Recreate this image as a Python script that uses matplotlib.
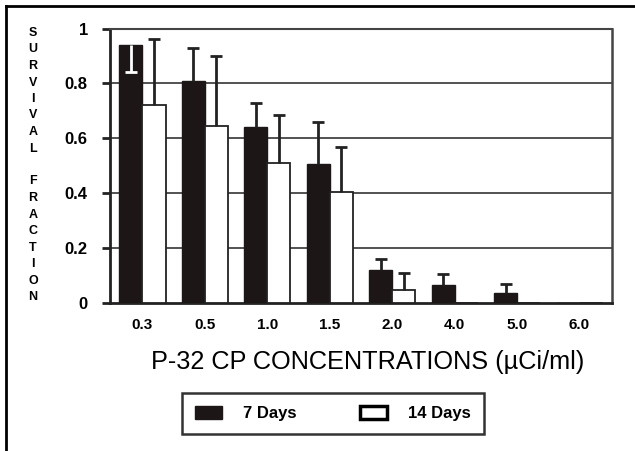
import numpy as np
import matplotlib
matplotlib.use("Agg")
import matplotlib.pyplot as plt
from matplotlib.patches import Patch
from matplotlib.lines import Line2D

plt.rcParams['font.family'] = ['Liberation Sans', 'DejaVu Sans']

# valores
concentraciones = ['0.3', '0.5', '1.0', '1.5', '2.0', '4.0', '5.0', '6.0']
dias7 = [0.94, 0.81, 0.64, 0.505, 0.12, 0.065, 0.035, 0.0]
dias7_err = [0.10, 0.12, 0.09, 0.155, 0.04, 0.04, 0.035, 0.0]
dias14 = [0.72, 0.645, 0.51, 0.405, 0.048, 0.0, 0.0, 0.0]
dias14_err = [0.24, 0.255, 0.175, 0.165, 0.06, 0.0, 0.0, 0.0]
# la barra de error de 0.3 / 7 dias va hacia abajo (en blanco)
err_abajo = [True, False, False, False, False, False, False, False]

fig = plt.figure(figsize=(6.35, 4.51), dpi=100)
ax = fig.add_axes([0.1732, 0.3282, 0.7906, 0.6086])

x = np.arange(len(concentraciones))
ancho = 0.37
negro = '#1c1616'


def barra_error(xpos, y, err, abajo, color):
    if abajo:
        yerr = [[err], [0]]
    else:
        yerr = [[0], [err]]
    _, caps, _ = ax.errorbar(xpos, y, yerr=yerr, fmt='none', ecolor=color,
                             elinewidth=2, capsize=4, capthick=2, zorder=4)
    # solo se deja el cap del extremo
    if abajo:
        caps[1].set_visible(False)
    else:
        caps[0].set_visible(False)


ax.bar(x - ancho / 2, dias7, ancho, color=negro, edgecolor=negro, linewidth=1, zorder=3)
ax.bar(x + ancho / 2, dias14, ancho, color='white', edgecolor='#222222', linewidth=1.3, zorder=3)

for i in range(len(x)):
    if dias7_err[i] > 0:
        if err_abajo[i]:
            barra_error(x[i] - ancho / 2, dias7[i], dias7_err[i], True, 'white')
        else:
            barra_error(x[i] - ancho / 2, dias7[i], dias7_err[i], False, '#222222')
    if dias14_err[i] > 0:
        barra_error(x[i] + ancho / 2, dias14[i], dias14_err[i], False, '#222222')

ax.set_xlim(-0.52, 7.52)
ax.set_ylim(0, 1)
ax.set_yticks([0, 0.2, 0.4, 0.6, 0.8, 1.0])
ax.set_yticklabels(['0', '0.2', '0.4', '0.6', '0.8', '1'], fontsize=12, fontweight='bold')
ax.set_xticks(x)
ax.set_xticklabels(concentraciones, fontsize=11, fontweight='bold')
ax.tick_params(axis='x', length=0, pad=11)
ax.tick_params(axis='y', length=6, width=2, pad=10, color='#222222')

for g in [0.2, 0.4, 0.6, 0.8]:
    ax.axhline(g, color='#444444', linewidth=1.3, zorder=1)

ax.spines['left'].set_linewidth(2)
ax.spines['bottom'].set_linewidth(2)
ax.spines['left'].set_color('#222222')
ax.spines['bottom'].set_color('#222222')
ax.spines['top'].set_linewidth(1.5)
ax.spines['top'].set_color('#444444')
ax.spines['right'].set_linewidth(1.8)
ax.spines['right'].set_color('#444444')

# etiqueta vertical letra por letra
letras = 'SURVIVAL FRACTION'
for k, letra in enumerate(letras):
    fig.text(33 / 635, 1 - (33 + k * 16.5) / 451, letra, fontsize=9, fontweight='heavy',
             ha='center', va='center')

fig.text(368 / 635, 1 - 362 / 451, 'P-32 CP CONCENTRATIONS (\u00b5Ci/ml)', fontsize=18.2,
         ha='center', va='center')

manejadores = [Patch(facecolor=negro, edgecolor=negro, label='7 Days'),
               Patch(facecolor='white', edgecolor='black', linewidth=2.5, label='14 Days')]
leg = fig.legend(handles=manejadores, loc='center', bbox_to_anchor=(333 / 635, 1 - 413.5 / 451),
                 ncol=2, frameon=True, fancybox=False, edgecolor='black',
                 prop={'weight': 'bold', 'size': 12}, handlelength=1.6, handleheight=0.8,
                 handletextpad=1.3, columnspacing=3.8, borderpad=0.8)
leg.get_frame().set_linewidth(1.8)

# marco exterior
fig.add_artist(Line2D([6 / 635, 6 / 635], [0, 1 - 6 / 451], color='black', linewidth=2))
fig.add_artist(Line2D([6 / 635, 1], [1 - 6 / 451, 1 - 6 / 451], color='black', linewidth=2))

fig.savefig('out.png', dpi=100)
